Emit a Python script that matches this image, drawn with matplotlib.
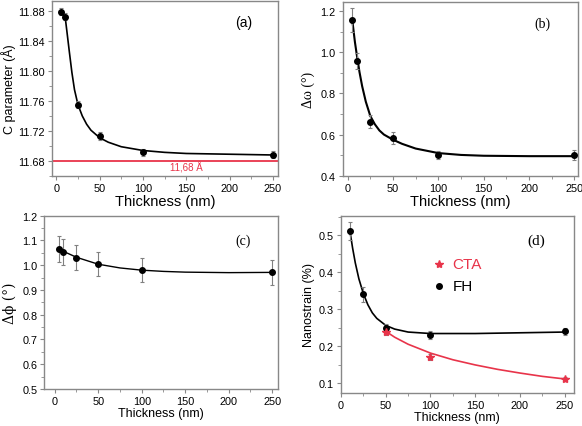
import numpy as np
import matplotlib
matplotlib.use('Agg')
import matplotlib.pyplot as plt
from matplotlib.ticker import MultipleLocator, AutoMinorLocator

plt.rcParams['font.family'] = ['Liberation Sans', 'DejaVu Sans']

# (a) C parameter
thick = [5, 10, 25, 50, 100, 250]
c_param = [11.879, 11.8725, 11.755, 11.713, 11.6915, 11.6886]
c_err = [0.005, 0.005, 0.005, 0.005, 0.005, 0.005]
c_fit_x = [10, 12, 15, 18, 21, 25, 30, 35, 40, 50, 60, 75, 100, 125, 150, 200, 250]
c_fit_y = [11.874, 11.855, 11.826, 11.798, 11.775, 11.755, 11.740, 11.729, 11.721, 11.711,
           11.705, 11.699, 11.694, 11.6915, 11.690, 11.689, 11.688]
c_ref = 11.68

# (b) delta omega
omega = [1.158, 0.957, 0.663, 0.583, 0.500, 0.502]
omega_err = [0.06, 0.04, 0.03, 0.03, 0.02, 0.025]
om_fit_x = [5, 8, 10, 13, 16, 20, 25, 30, 35, 40, 50, 60, 75, 100, 125, 150, 200, 250]
om_fit_y = [1.16, 1.05, 0.99, 0.905, 0.835, 0.76, 0.69, 0.65, 0.62, 0.60, 0.575, 0.555,
            0.532, 0.510, 0.501, 0.497, 0.495, 0.495]

# (c) delta phi
phi = [1.064, 1.053, 1.030, 1.005, 0.981, 0.972]
phi_err = [0.052, 0.052, 0.05, 0.05, 0.05, 0.05]
phi_fit_x = [5, 10, 25, 50, 75, 100, 125, 150, 200, 250]
phi_fit_y = [1.064, 1.056, 1.032, 1.004, 0.989, 0.980, 0.975, 0.972, 0.970, 0.971]

# (d) nanostrain
fh_x = [10, 25, 50, 100, 250]
fh_y = [0.511, 0.340, 0.249, 0.230, 0.240]
fh_err = [0.025, 0.02, 0.01, 0.01, 0.01]
fh_fit_x = [10, 13, 16, 20, 25, 30, 35, 40, 50, 60, 75, 100, 150, 200, 250]
fh_fit_y = [0.511, 0.465, 0.425, 0.382, 0.342, 0.312, 0.290, 0.275, 0.256, 0.246, 0.238,
            0.234, 0.234, 0.236, 0.238]
cta_x = [50, 100, 250]
cta_y = [0.239, 0.170, 0.111]
cta_err = [0.01, 0.008, 0.004]
cta_fit_x = [50, 60, 75, 100, 125, 150, 175, 200, 225, 250]
cta_fit_y = [0.240, 0.224, 0.205, 0.181, 0.163, 0.149, 0.137, 0.127, 0.118, 0.111]

fig = plt.figure(figsize=(5.82, 4.27), dpi=100)
ax_a = fig.add_axes([0.0893, 0.5855, 0.3884, 0.4095])
ax_b = fig.add_axes([0.5888, 0.5862, 0.4043, 0.4068])
ax_c = fig.add_axes([0.0761, 0.0867, 0.4021, 0.4058])
ax_d = fig.add_axes([0.5859, 0.0773, 0.3998, 0.4152])

spine_col = '#888888'
err_col = '#808080'


def style(ax, xmajor, ymajor, tsize=7.8):
    for s in ax.spines.values():
        s.set_color(spine_col)
        s.set_linewidth(1.0)
    ax.xaxis.set_major_locator(MultipleLocator(xmajor))
    ax.yaxis.set_major_locator(MultipleLocator(ymajor))
    ax.xaxis.set_minor_locator(AutoMinorLocator(2))
    ax.yaxis.set_minor_locator(AutoMinorLocator(2))
    ax.tick_params(which='both', direction='out', color=spine_col, labelsize=tsize,
                   top=False, right=False)
    ax.tick_params(which='major', length=3, width=0.8, pad=2)
    ax.tick_params(which='minor', length=2, width=0.6)


def points(ax, x, y, err, color='black', marker='o', ms=4):
    ax.errorbar(x, y, yerr=err, fmt='none', ecolor=err_col, elinewidth=0.8,
                capsize=1.5, capthick=0.8, zorder=3)
    ax.plot(x, y, linestyle='none', marker=marker, color=color, ms=ms, zorder=4)


# panel (a)
ax_a.plot(c_fit_x, c_fit_y, color='black', lw=1.2, zorder=2)
points(ax_a, thick, c_param, c_err)
ax_a.axhline(c_ref, color='#e8344a', lw=1.3, zorder=1)
ax_a.text(150, 11.672, '11,68 Å', color='#e8344a', fontsize=7, ha='center', va='center')
ax_a.set_xlim(-5, 256)
ax_a.set_ylim(11.66, 11.893)
style(ax_a, 50, 0.04)
ax_a.yaxis.set_major_formatter(matplotlib.ticker.FormatStrFormatter('%.2f'))
ax_a.set_xlabel('Thickness (nm)', fontsize=10.5, labelpad=1)
ax_a.set_ylabel('C parameter (Å)', fontsize=9, labelpad=2)
ax_a.text(0.85, 0.88, '(a)', transform=ax_a.transAxes, fontsize=10, ha='center',
          va='center')

# panel (b)
ax_b.plot(om_fit_x, om_fit_y, color='black', lw=1.5, zorder=2)
points(ax_b, thick, omega, omega_err)
ax_b.set_xlim(-5.5, 254)
ax_b.set_ylim(0.4, 1.245)
style(ax_b, 50, 0.2)
ax_b.yaxis.set_major_formatter(matplotlib.ticker.FormatStrFormatter('%.1f'))
ax_b.set_xlabel('Thickness (nm)', fontsize=10.5, labelpad=1)
ax_b.set_ylabel('Δω (°)', fontsize=10, family=['Liberation Serif', 'DejaVu Serif'], labelpad=4)
ax_b.text(0.85, 0.88, '(b)', transform=ax_b.transAxes, fontsize=10, ha='center',
          va='center', family=['Liberation Serif', 'DejaVu Serif'])

# panel (c)
ax_c.plot(phi_fit_x, phi_fit_y, color='black', lw=1.0, zorder=2)
points(ax_c, thick, phi, phi_err)
ax_c.set_xlim(-12, 257)
ax_c.set_ylim(0.5, 1.2)
style(ax_c, 50, 0.1)
ax_c.yaxis.set_major_formatter(matplotlib.ticker.FormatStrFormatter('%.1f'))
ax_c.set_xlabel('Thickness (nm)', fontsize=9, labelpad=1)
ax_c.set_ylabel('Δϕ (°)', fontsize=10, family=['DejaVu Serif'], labelpad=4)
ax_c.text(0.85, 0.86, '(c)', transform=ax_c.transAxes, fontsize=10, ha='center',
          va='center', family=['Liberation Serif', 'DejaVu Serif'])

# panel (d)
ax_d.plot(fh_fit_x, fh_fit_y, color='black', lw=1.2, zorder=2)
ax_d.plot(cta_fit_x, cta_fit_y, color='#e8344a', lw=1.2, zorder=2)
points(ax_d, fh_x, fh_y, fh_err)
points(ax_d, cta_x, cta_y, cta_err, color='#e8344a', marker='*', ms=6)
ax_d.set_xlim(0, 260)
ax_d.set_ylim(0.073, 0.553)
style(ax_d, 50, 0.1)
ax_d.yaxis.set_major_formatter(matplotlib.ticker.FormatStrFormatter('%.1f'))
ax_d.set_xlabel('Thickness (nm)', fontsize=9, labelpad=1)
ax_d.set_ylabel('Nanostrain (%)', fontsize=9, labelpad=3)
ax_d.text(0.84, 0.86, '(d)', transform=ax_d.transAxes, fontsize=11, ha='center',
          va='center', family=['Liberation Serif', 'DejaVu Serif'])
ax_d.plot([0.42], [0.73], transform=ax_d.transAxes, marker='*', color='#e8344a', ms=6,
          linestyle='none')
ax_d.plot([0.42], [0.605], transform=ax_d.transAxes, marker='o', color='black', ms=4,
          linestyle='none')
ax_d.text(0.48, 0.73, 'CTA', transform=ax_d.transAxes, color='#e8344a', fontsize=11,
          va='center')
ax_d.text(0.48, 0.605, 'FH', transform=ax_d.transAxes, color='black', fontsize=11,
          va='center')

fig.savefig('out.png', dpi=100)
